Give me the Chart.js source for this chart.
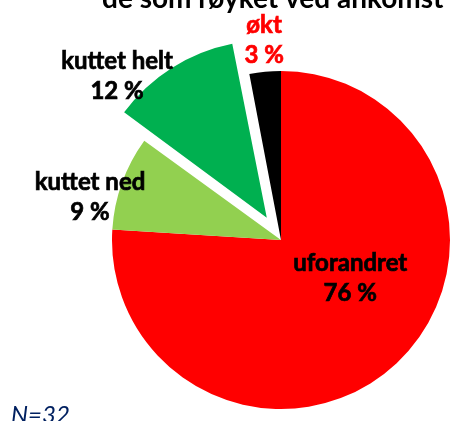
<!DOCTYPE html>
<html>
<head>
<meta charset="utf-8">
<script src="https://cdn.jsdelivr.net/npm/chart.js@4"></script>
<style>
  body { margin: 0; background: #fff; }
  canvas { display: block; }
</style>
</head>
<body>
<canvas id="pie" width="450" height="421"></canvas>
<script>
// data
const categories = ['uforandret', 'kuttet ned', 'kuttet helt', 'økt'];
const percents = [76, 9, 12, 3];
const sliceColors = ['#FF0000', '#92D050', '#00B050', '#000000'];
const labelColors = ['#000000', '#000000', '#000000', '#FF0000'];
// chart.js shrinks the offset of a narrow slice, so this gives ~35px
const explode = [0, 0, 106, 0];
const sampleNote = 'N=32';
const titleText = 'de som røyket ved ankomst';

// label block position, as fraction of the radius from the pie centre
const labelAt = [[0.41, 0.228], [-1.13, -0.251], [-0.97, -0.967], [-0.10, -1.183]];

const labelPlugin = {
    id: 'sliceLabels',
    afterDraw(chart) {
        const c = chart.ctx;
        const arcs = chart.getDatasetMeta(0).data;
        c.save();
        c.textAlign = 'center';
        c.textBaseline = 'middle';
        c.font = 'bold 24px Lato';
        c.lineWidth = 0.7;
        arcs.forEach((arc, i) => {
            const r = arc.outerRadius;
            const x = arc.x + labelAt[i][0] * r;
            const y = arc.y + labelAt[i][1] * r;
            c.fillStyle = labelColors[i];
            c.strokeStyle = labelColors[i];
            c.fillText(categories[i], x, y - 15);
            c.strokeText(categories[i], x, y - 15);
            c.fillText(percents[i] + ' %', x, y + 15);
            c.strokeText(percents[i] + ' %', x, y + 15);
        });
        // title, cut by the top edge
        c.textAlign = 'left';
        c.textBaseline = 'alphabetic';
        c.fillStyle = '#000';
        c.font = 'bold 28px Lato';
        c.fillText(titleText, 102, 8);
        // sample size
        c.font = 'italic 24px Lato';
        c.fillStyle = '#002060';
        c.fillText(sampleNote, 11, 423);
        c.restore();
    }
};

const ctx = document.getElementById('pie');
new Chart(ctx, {
    type: 'pie',
    data: {
        labels: categories,
        datasets: [{
            data: percents,
            backgroundColor: sliceColors,
            borderWidth: 0,
            offset: explode
        }]
    },
    options: {
        responsive: false,
        animation: false,
        events: [],
        radius: 169,
        layout: {
            padding: { left: 112, right: 0, top: 71, bottom: 12 }
        },
        plugins: {
            legend: { display: false },
            tooltip: { enabled: false }
        }
    },
    plugins: [labelPlugin]
});
</script>
</body>
</html>
